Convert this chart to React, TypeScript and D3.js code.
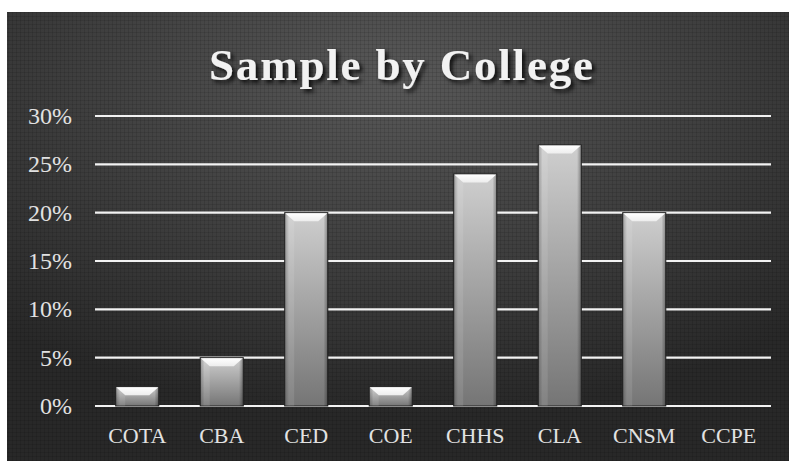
import React, { useEffect, useRef } from 'react';
import * as d3 from 'd3';

// Sample share per college

const colleges = ['COTA', 'CBA', 'CED', 'COE', 'CHHS', 'CLA', 'CNSM', 'CCPE'];
const shares = [0.02, 0.05, 0.2, 0.02, 0.24, 0.27, 0.2, 0];
const yTicks = [0, 0.05, 0.1, 0.15, 0.2, 0.25, 0.3];

const App = () => {
  const svgRef = useRef<SVGSVGElement>(null);

  useEffect(() => {
    const width = 789;
    const height = 461;
    const frame = { x: 7, y: 12 };
    const plot = { left: 95, right: 771, top: 116, bottom: 406 };

    const svg = d3.select(svgRef.current);
    svg.selectAll('*').remove();

    const defs = svg.append('defs');

    const bg = defs.append('radialGradient')
      .attr('id', 'bg')
      .attr('cx', '50%').attr('cy', '15%').attr('r', '75%');
    bg.append('stop').attr('offset', '0%').attr('stop-color', '#585858');
    bg.append('stop').attr('offset', '55%').attr('stop-color', '#3e3e3e');
    bg.append('stop').attr('offset', '100%').attr('stop-color', '#282828');

    // fine grid texture of the background
    const pat = defs.append('pattern')
      .attr('id', 'tex')
      .attr('width', 4).attr('height', 4)
      .attr('patternUnits', 'userSpaceOnUse');
    pat.append('rect').attr('width', 4).attr('height', 1).attr('fill', '#000').attr('opacity', 0.1);
    pat.append('rect').attr('width', 1).attr('height', 4).attr('fill', '#000').attr('opacity', 0.1);

    const barGrad = defs.append('linearGradient')
      .attr('id', 'bar').attr('x1', 0).attr('y1', 0).attr('x2', 0).attr('y2', 1);
    barGrad.append('stop').attr('offset', '0%').attr('stop-color', '#cfcfcf');
    barGrad.append('stop').attr('offset', '100%').attr('stop-color', '#757575');

    const sideGrad = defs.append('linearGradient')
      .attr('id', 'side').attr('x1', 0).attr('y1', 0).attr('x2', 1).attr('y2', 0);
    sideGrad.append('stop').attr('offset', '0%').attr('stop-color', '#000').attr('stop-opacity', 0.3);
    sideGrad.append('stop').attr('offset', '10%').attr('stop-color', '#000').attr('stop-opacity', 0);
    sideGrad.append('stop').attr('offset', '90%').attr('stop-color', '#000').attr('stop-opacity', 0);
    sideGrad.append('stop').attr('offset', '100%').attr('stop-color', '#000').attr('stop-opacity', 0.35);

    const bevelGrad = defs.append('linearGradient')
      .attr('id', 'bevel').attr('x1', 0).attr('y1', 0).attr('x2', 0).attr('y2', 1);
    bevelGrad.append('stop').attr('offset', '0%').attr('stop-color', '#ffffff');
    bevelGrad.append('stop').attr('offset', '100%').attr('stop-color', '#ededed');

    const shadow = defs.append('filter').attr('id', 'shadow')
      .attr('x', '-10%').attr('y', '-20%').attr('width', '130%').attr('height', '160%');
    shadow.append('feDropShadow')
      .attr('dx', 3).attr('dy', 3).attr('stdDeviation', 2)
      .attr('flood-color', '#000').attr('flood-opacity', 0.8);

    svg.append('rect')
      .attr('width', width).attr('height', height)
      .attr('fill', '#fff');
    svg.append('rect')
      .attr('x', frame.x).attr('y', frame.y)
      .attr('width', width - frame.x).attr('height', height - frame.y)
      .attr('fill', 'url(#bg)');
    svg.append('rect')
      .attr('x', frame.x).attr('y', frame.y)
      .attr('width', width - frame.x).attr('height', height - frame.y)
      .attr('fill', 'url(#tex)');

    const x = d3.scaleBand()
      .domain(colleges)
      .range([plot.left, plot.right])
      .paddingInner(0.49)
      .paddingOuter(0.245);

    const y = d3.scaleLinear()
      .domain([0, 0.3])
      .range([plot.bottom, plot.top]);

    // gridlines
    svg.append('g')
      .selectAll('line')
      .data(yTicks)
      .enter()
      .append('line')
      .attr('x1', plot.left)
      .attr('x2', plot.right)
      .attr('y1', d => y(d))
      .attr('y2', d => y(d))
      .attr('stroke', '#f2f2f2')
      .attr('stroke-width', 2.2);

    // y tick labels
    svg.append('g')
      .selectAll('text')
      .data(yTicks)
      .enter()
      .append('text')
      .attr('x', 72)
      .attr('y', d => y(d) + 8)
      .attr('text-anchor', 'end')
      .attr('font-family', 'Liberation Serif, serif')
      .attr('font-size', 24)
      .attr('fill', '#e2e2e2')
      .text(d => d3.format('.0%')(d));

    // bars with bevelled top
    const bars = svg.append('g')
      .selectAll('g')
      .data(colleges.map((c, i) => ({ c, v: shares[i] })).filter(d => d.v > 0))
      .enter()
      .append('g');

    bars.append('rect')
      .attr('x', d => x(d.c)!)
      .attr('y', d => y(d.v))
      .attr('width', x.bandwidth())
      .attr('height', d => y(0) - y(d.v))
      .attr('fill', 'url(#bar)')
      .attr('stroke', '#222')
      .attr('stroke-width', 1);

    bars.append('rect')
      .attr('x', d => x(d.c)!)
      .attr('y', d => y(d.v))
      .attr('width', x.bandwidth())
      .attr('height', d => y(0) - y(d.v))
      .attr('fill', 'url(#side)');

    const bevel = 9;
    const bevelH = 8;
    bars.append('path')
      .attr('d', d => {
        const x0 = x(d.c)! + 0.5;
        const x1 = x(d.c)! + x.bandwidth() - 0.5;
        const t = y(d.v) + 0.5;
        return `M${x0},${t}L${x1},${t}L${x1 - bevel},${t + bevelH}L${x0 + bevel},${t + bevelH}Z`;
      })
      .attr('fill', 'url(#bevel)');

    bars.append('path')
      .attr('d', d => {
        const x0 = x(d.c)! + 0.5;
        const t = y(d.v) + 0.5;
        return `M${x0},${t}L${x0 + bevel},${t + bevelH}L${x0 + bevel},${y(0)}L${x0},${y(0)}Z`;
      })
      .attr('fill', '#fff')
      .attr('opacity', 0.1);

    // category labels
    svg.append('g')
      .selectAll('text')
      .data(colleges)
      .enter()
      .append('text')
      .attr('x', d => x(d)! + x.bandwidth() / 2)
      .attr('y', 443)
      .attr('text-anchor', 'middle')
      .attr('font-family', 'Liberation Serif, serif')
      .attr('font-size', 22)
      .attr('fill', '#e2e2e2')
      .text(d => d);

    // title
    svg.append('text')
      .attr('x', 401)
      .attr('y', 80)
      .attr('text-anchor', 'middle')
      .attr('font-family', 'Liberation Serif, serif')
      .attr('font-weight', 'bold')
      .attr('font-size', 45)
      .attr('fill', '#f2f2f2')
      .attr('textLength', 384)
      .attr('lengthAdjust', 'spacing')
      .attr('filter', 'url(#shadow)')
      .text('Sample by College');
  }, []);

  return (
    <svg
      ref={svgRef}
      width="789"
      height="461"
      style={{ position: 'absolute', left: 0, top: 0, display: 'block' }}
    />
  );
};

export default App;
